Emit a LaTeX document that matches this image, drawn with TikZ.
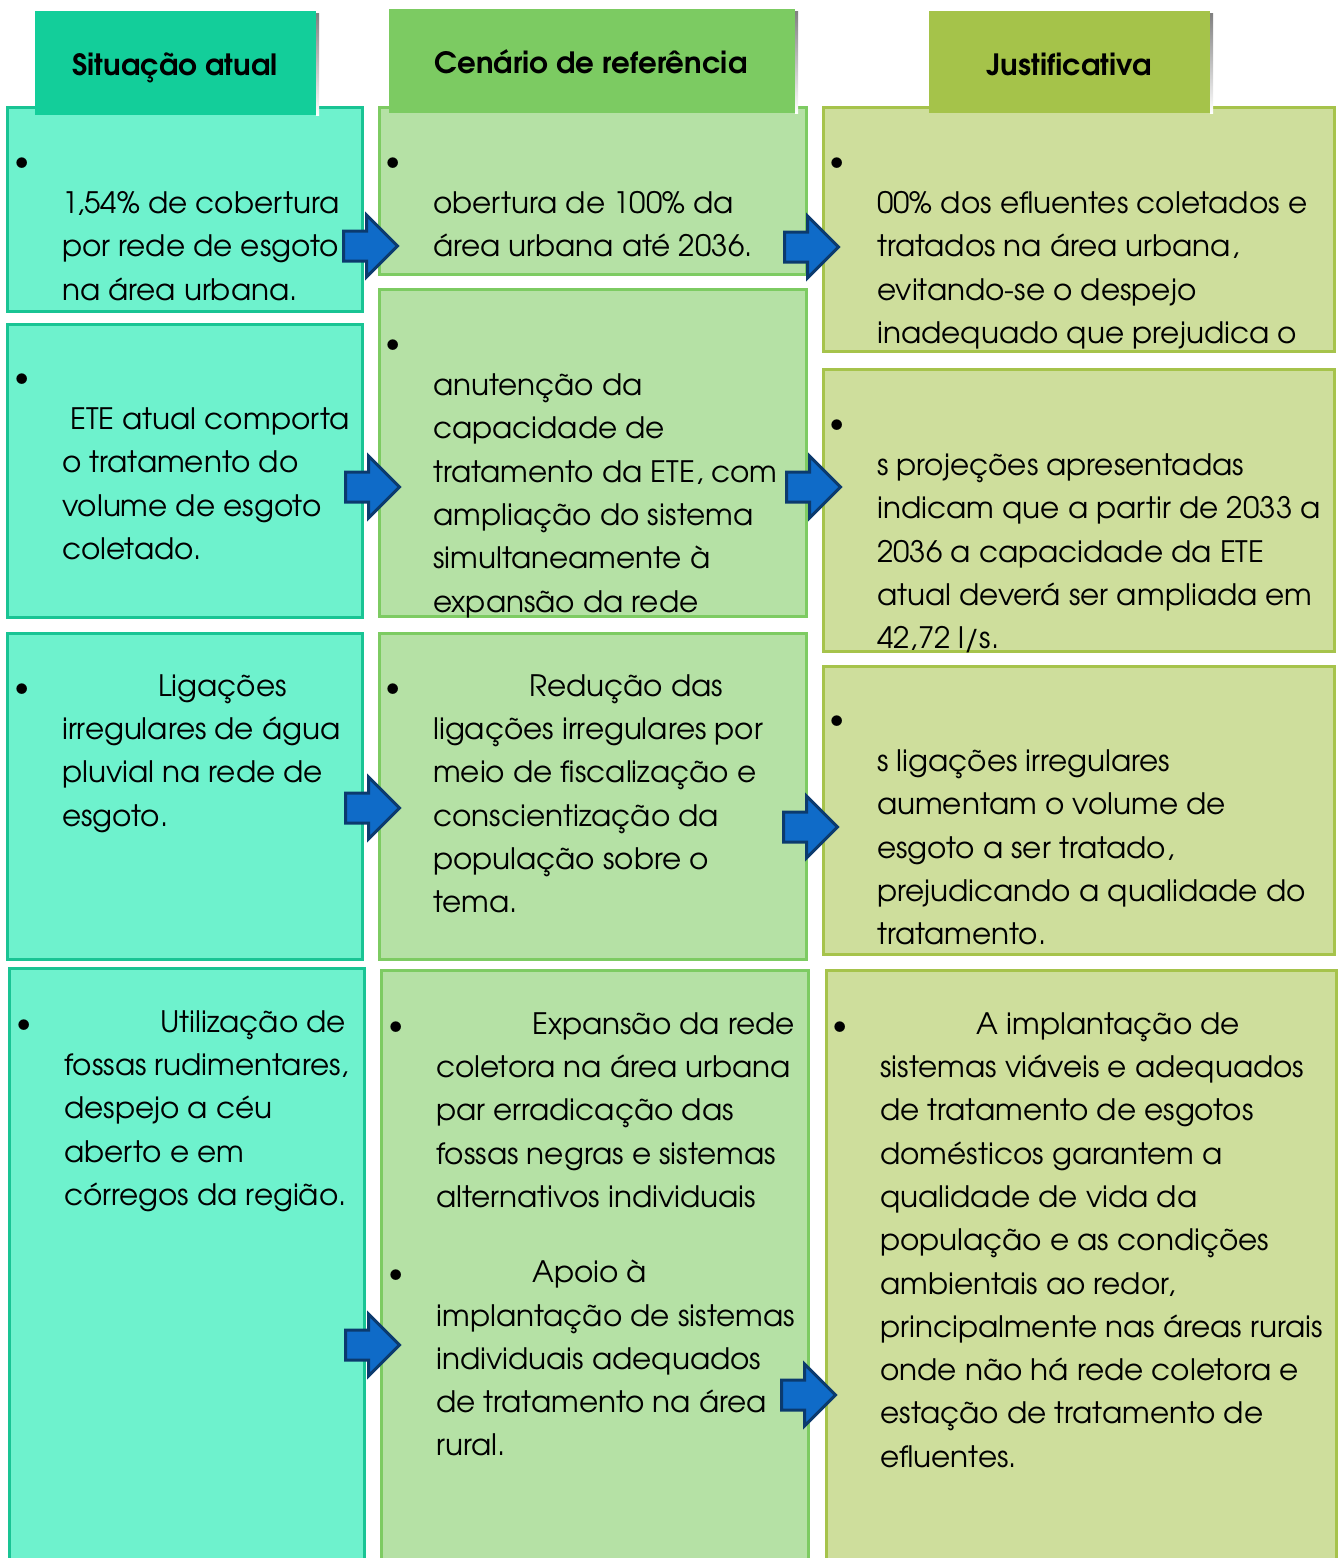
\documentclass[tikz,border=0pt]{standalone}
\usepackage{fontspec}
\setmainfont{TeX Gyre Adventor}
\usetikzlibrary{shapes.arrows}

\definecolor{headA}{HTML}{13CE9A}
\definecolor{cellA}{HTML}{6EF2CD}
\definecolor{lineA}{HTML}{19C494}
\definecolor{headB}{HTML}{7CCB62}
\definecolor{cellB}{HTML}{B5E1A5}
\definecolor{lineB}{HTML}{7DCB62}
\definecolor{headC}{HTML}{A5C34A}
\definecolor{cellC}{HTML}{CEDE9C}
\definecolor{lineC}{HTML}{A6C34B}
\definecolor{shade}{HTML}{595959}
\definecolor{arrfill}{HTML}{0F6BC8}
\definecolor{arrline}{HTML}{0B3A6E}

\newcommand{\bodyfont}{\fontsize{29.5}{43.3}\selectfont}
\newcommand{\itembul}{\rule{0pt}{30pt}\llap{\textbullet\hspace{32pt}}}

\tikzset{
  cell/.style={anchor=north west, line width=3pt, inner sep=0pt},
  headbox/.style={anchor=north west, inner sep=0pt},
  headtext/.style={anchor=base, inner sep=0pt, font=\fontsize{29.3}{32}\selectfont\bfseries},
  txt/.style={anchor=north west, inner sep=0pt, align=left, font=\bodyfont},
  bigarrow/.style={single arrow, anchor=tail, fill=arrfill, draw=arrline, line width=3pt,
    inner xsep=0pt, inner ysep=13.5pt, minimum height=54pt,
    single arrow head extend=16pt, outer sep=0pt}
}

\begin{document}
\begin{tikzpicture}[x=1pt, y=-1pt]
\useasboundingbox (0,0) rectangle (1338,1558);

% column cells
\node [cell, fill=cellA, draw=lineA, minimum width=355pt, minimum height=204pt] (sitA1) at (6,106) {};
\node [cell, fill=cellA, draw=lineA, minimum width=355pt, minimum height=293pt] (sitA2) at (6,323) {};
\node [cell, fill=cellA, draw=lineA, minimum width=355pt, minimum height=326pt] (sitA3) at (6,632) {};
\node [cell, fill=cellA, draw=lineA, minimum width=355pt, minimum height=620pt] (sitA4) at (8,967) {};
\node [cell, fill=cellB, draw=lineB, minimum width=427pt, minimum height=167pt] (cenB1) at (378,106) {};
\node [cell, fill=cellB, draw=lineB, minimum width=427pt, minimum height=327pt] (cenB2) at (378,288) {};
\node [cell, fill=cellB, draw=lineB, minimum width=427pt, minimum height=326pt] (cenB3) at (378,632) {};
\node [cell, fill=cellB, draw=lineB, minimum width=427pt, minimum height=620pt] (cenB4) at (380,969) {};
\node [cell, fill=cellC, draw=lineC, minimum width=511pt, minimum height=244pt] (jusC1) at (822,106) {};
\node [cell, fill=cellC, draw=lineC, minimum width=511pt, minimum height=282pt] (jusC2) at (822,368) {};
\node [cell, fill=cellC, draw=lineC, minimum width=511pt, minimum height=288pt] (jusC3) at (822,665) {};
\node [cell, fill=cellC, draw=lineC, minimum width=510pt, minimum height=620pt] (jusC4) at (825,969) {};

% headers with their dark edge
\fill [shade] (316,13) rectangle (319,115);
\fill [shade] (795,11) rectangle (798,113);
\fill [shade] (1210,13) rectangle (1213,113);
\node [headbox, fill=headA, minimum width=281pt, minimum height=104pt] (headSit) at (35,11) {};
\node [headbox, fill=headB, minimum width=406pt, minimum height=104pt] (headCen) at (389,9) {};
\node [headbox, fill=headC, minimum width=281pt, minimum height=102pt] (headJus) at (929,11) {};
\node [headtext] (titSit) at (175,75) {Situação atual};
\node [headtext] (titCen) at (591,73) {Cenário de referência};
\node [headtext] (titJus) at (1069,75) {Justificativa};

% first row
\node [txt] (txtA1) at (62,140) {\itembul\\1,54\% de cobertura\\por rede de esgoto\\na área urbana.};
\node [txt] (txtB1) at (433,140) {\itembul\\obertura de 100\% da\\área urbana até 2036.};
\begin{scope}
\clip (jusC1.north west) rectangle (jusC1.south east);
\node [txt] (txtC1) at (877,140) {\itembul\\00\% dos efluentes coletados e\\tratados na área urbana,\\evitando-se o despejo\\inadequado que prejudica o};
\end{scope}

% second row
\node [txt] (txtA2) at (62,356) {\itembul\\\hspace{8pt}ETE atual comporta\\o tratamento do\\volume de esgoto\\coletado.};
\begin{scope}
\clip (cenB2.north west) rectangle (cenB2.south east);
\node [txt] (txtB2) at (433,322) {\itembul\\anutenção da\\capacidade de\\tratamento da ETE, com\\ampliação do sistema\\simultaneamente à\\expansão da rede};
\end{scope}
\begin{scope}
\clip (jusC2.north west) rectangle (jusC2.south east);
\node [txt] (txtC2) at (877,402) {\itembul\\s projeções apresentadas\\indicam que a partir de 2033 a\\2036 a capacidade da ETE\\atual deverá ser ampliada em\\42,72 l/s.};
\end{scope}

% third row
\node [txt] (txtA3) at (62,666) {\itembul\hspace{96pt}Ligações\\irregulares de água\\pluvial na rede de\\esgoto.};
\node [txt] (txtB3) at (433,666) {\itembul\hspace{96pt}Redução das\\ligações irregulares por\\meio de fiscalização e\\conscientização da\\população sobre o\\tema.};
\node [txt] (txtC3) at (877,698) {\itembul\\s ligações irregulares\\aumentam o volume de\\esgoto a ser tratado,\\prejudicando a qualidade do\\tratamento.};

% fourth row
\node [txt] (txtA4) at (64,1002) {\itembul\hspace{96pt}Utilização de\\fossas rudimentares,\\despejo a céu\\aberto e em\\córregos da região.};
\node [txt] (txtB4) at (436,1004) {\itembul\hspace{96pt}Expansão da rede\\coletora na área urbana\\par erradicação das\\fossas negras e sistemas\\alternativos individuais\\[32pt]\itembul\hspace{96pt}Apoio à\\implantação de sistemas\\individuais adequados\\de tratamento na área\\rural.};
\node [txt] (txtC4) at (880,1004) {\itembul\hspace{96pt}A implantação de\\sistemas viáveis e adequados\\de tratamento de esgotos\\domésticos garantem a\\qualidade de vida da\\população e as condições\\ambientais ao redor,\\principalmente nas áreas rurais\\onde não há rede coletora e\\estação de tratamento de\\efluentes.};

% block arrows between the columns
\node [bigarrow] (arA1) at (343.5,246) {};
\node [bigarrow] (arB1) at (784.5,247) {};
\node [bigarrow] (arA2) at (345.5,487) {};
\node [bigarrow] (arB2) at (786.5,487) {};
\node [bigarrow] (arA3) at (345.5,808) {};
\node [bigarrow] (arB3) at (783.5,827) {};
\node [bigarrow] (arA4) at (345.5,1345) {};
\node [bigarrow] (arB4) at (781.5,1395) {};
\end{tikzpicture}
\end{document}
